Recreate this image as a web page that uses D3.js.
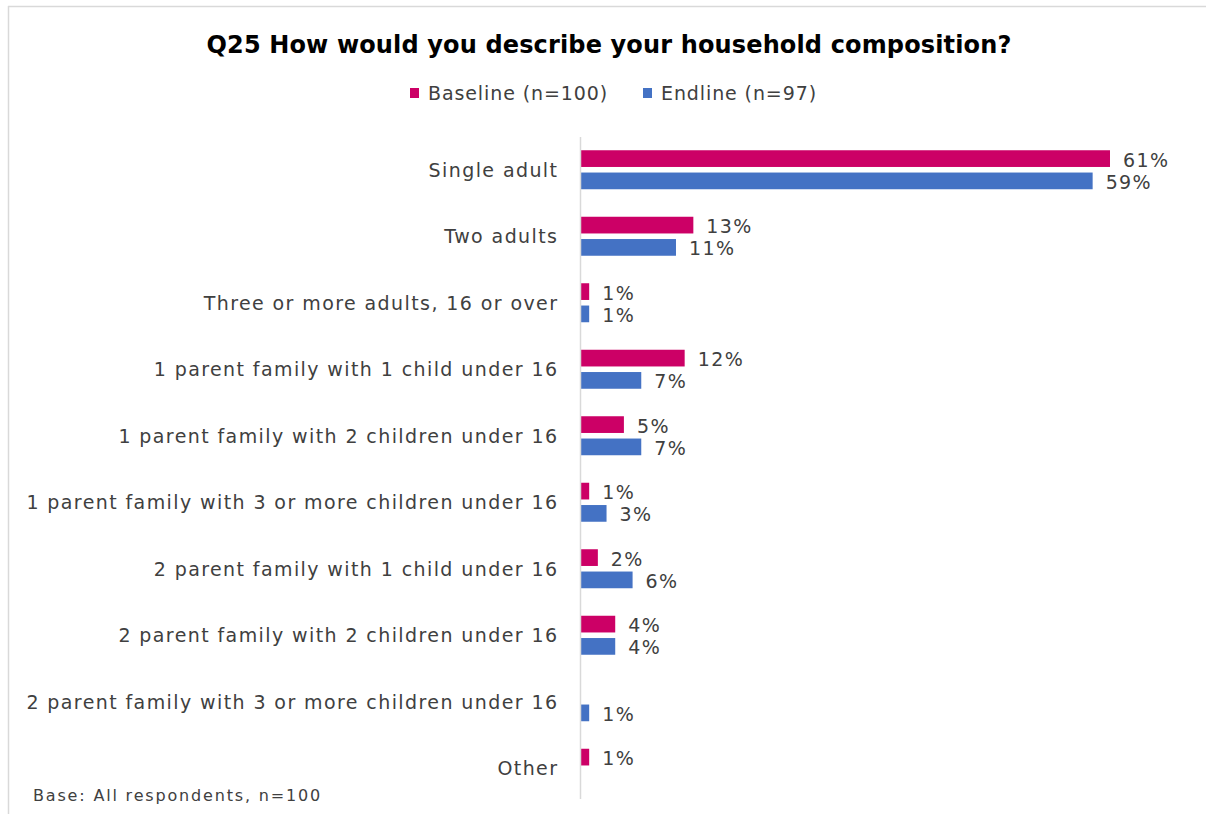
<!DOCTYPE html>
<html><head><meta charset="utf-8">
<script src="https://cdn.jsdelivr.net/npm/d3@7"></script>
<style>
body{margin:0;background:#fff;}
svg text{font-family:"DejaVu Sans",sans-serif;}
</style></head>
<body>
<svg id="chart" width="1206" height="814"></svg>
<script>
const categories = ["Single adult","Two adults","Three or more adults, 16 or over","1 parent family with 1 child under 16","1 parent family with 2 children under 16","1 parent family with 3 or more children under 16","2 parent family with 1 child under 16","2 parent family with 2 children under 16","2 parent family with 3 or more children under 16","Other"];
const seriesNames = ["Baseline (n=100)","Endline (n=97)"];
const baseline = [61,13,1,12,5,1,2,4,0,1];
const endline = [59,11,1,7,7,3,6,4,1,0];
const colors = ["#CC0066","#4472C4"];
const title = "Q25 How would you describe your household composition?";
const footnote = "Base: All respondents, n=100";

const svg = d3.select("#chart");
// letter-spacing so that text at a given size reaches a target width
function fitSpacing(txt, size, target, weight){
  const t = svg.append("text").attr("font-size",size).attr("font-weight",weight||"normal").text(txt);
  const w = t.node().getComputedTextLength();
  t.remove();
  return (target - w)/txt.length;
}
const catSize = 19, titleSize = 24, legSize = 19, footSize = 16;
const catSp = fitSpacing("1 parent family with 3 or more children under 16", catSize, 532);
const titleSp = fitSpacing(title, titleSize, 805, "bold");
const legSp = fitSpacing(seriesNames[0], legSize, 180);
const footSp = fitSpacing(footnote, footSize, 289);

// frame (top and left edges)
svg.append("line").attr("x1",8).attr("x2",1206).attr("y1",6.5).attr("y2",6.5).attr("stroke","#d9d9d9").attr("stroke-width",1.5);
svg.append("line").attr("x1",8.5).attr("x2",8.5).attr("y1",6).attr("y2",814).attr("stroke","#d9d9d9").attr("stroke-width",1.5);

const x = d3.scaleLinear().domain([0,61]).range([580.5,1110]);
const y0 = d3.scaleBand().domain(categories).range([136.5,801.5]);
const y1 = d3.scaleBand().domain(seriesNames).range([0,39]).paddingInner(0.25);

svg.append("text").attr("x",609).attr("y",45).attr("text-anchor","middle").attr("dominant-baseline","central")
  .attr("font-size",titleSize).attr("font-weight","bold").attr("fill","#000").attr("letter-spacing",titleSp)
  .text(title);

// legend
const legX = [410,643];
seriesNames.forEach((s,i)=>{
  svg.append("rect").attr("x",legX[i]).attr("y",88).attr("width",9).attr("height",10).attr("fill",colors[i]);
  svg.append("text").attr("x",legX[i]+18).attr("y",93).attr("dominant-baseline","central")
    .attr("font-size",legSize).attr("letter-spacing",legSp).attr("fill","#404040").text(s);
});

const data = categories.map((c,i)=>({cat:c, vals:[baseline[i],endline[i]]}));

const g = svg.append("g");
data.forEach(d=>{
  const top = y0(d.cat) + (y0.bandwidth()-39)/2;
  d.vals.forEach((v,j)=>{
    if(v<=0) return;
    const yy = top + y1(seriesNames[j]);
    g.append("rect").attr("x",x(0)).attr("y",yy).attr("width",x(v)-x(0)).attr("height",y1.bandwidth()).attr("fill",colors[j]);
    g.append("text").attr("x",x(v)+13).attr("y",yy+y1.bandwidth()/2+1).attr("dominant-baseline","central")
      .attr("font-size",catSize).attr("letter-spacing",catSp).attr("fill","#404040").text(v+"%");
  });
  g.append("text").attr("x",557+catSp).attr("y",y0(d.cat)+y0.bandwidth()/2).attr("text-anchor","end")
    .attr("dominant-baseline","central").attr("font-size",catSize).attr("letter-spacing",catSp)
    .attr("fill","#404040").text(d.cat);
});

svg.append("line").attr("x1",580.5).attr("x2",580.5).attr("y1",137).attr("y2",799)
  .attr("stroke","#d9d9d9").attr("stroke-width",1.5);

svg.append("text").attr("x",33).attr("y",795).attr("dominant-baseline","central")
  .attr("font-size",footSize).attr("letter-spacing",footSp).attr("fill","#404040").text(footnote);
</script>
</body></html>
